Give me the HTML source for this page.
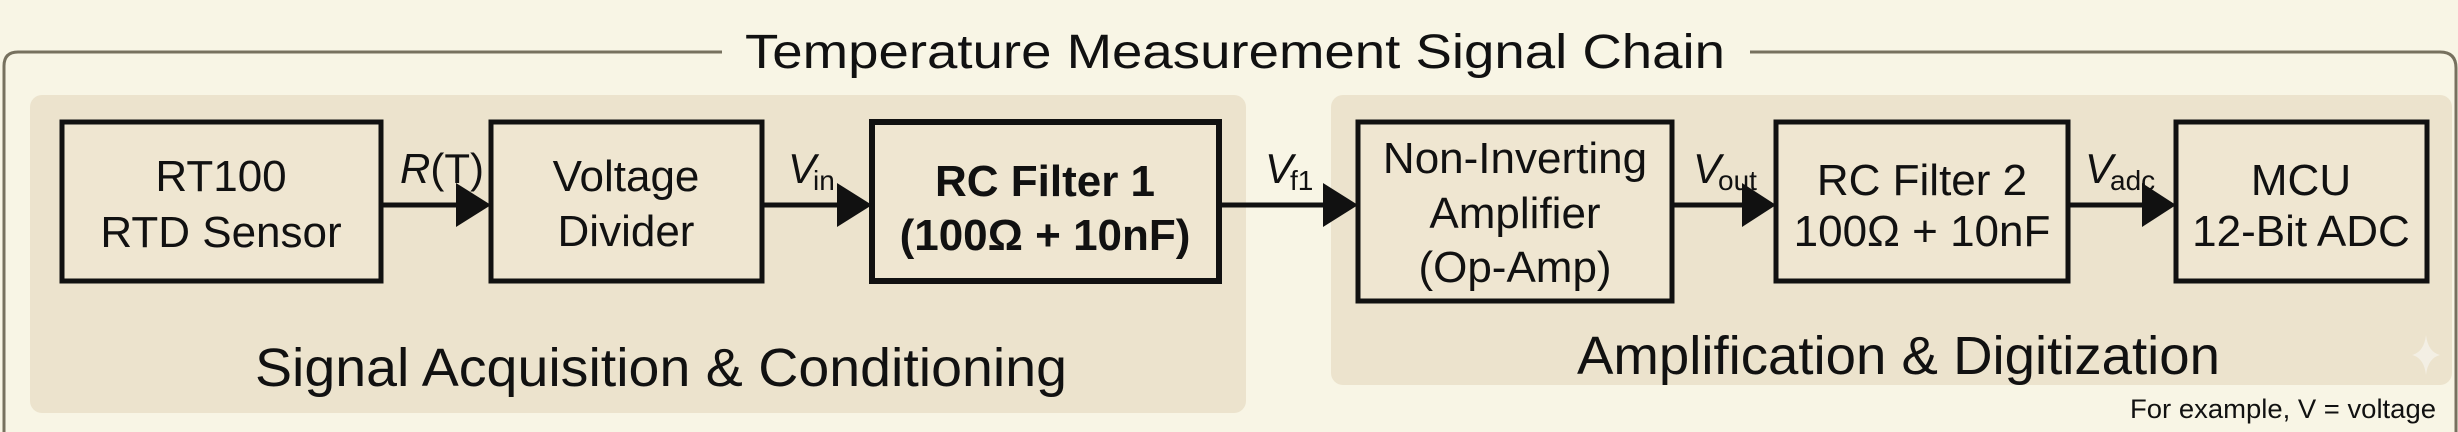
<!DOCTYPE html>
<html><head><meta charset="utf-8"><style>
html,body{margin:0;padding:0;background:#f8f5e5;}
svg{display:block;}
text{font-family:"Liberation Sans",sans-serif;fill:#111;}
</style></head><body>
<svg width="2458" height="432" viewBox="0 0 2458 432" xmlns="http://www.w3.org/2000/svg">
<rect x="0" y="0" width="2458" height="432" fill="#f8f5e5"/>
<!-- outer frame -->
<path d="M722 52 H18 Q4 52 4 66 V432" fill="none" stroke="#77715f" stroke-width="3"/>
<path d="M1750 52 H2440 Q2456 52 2456 68 V432" fill="none" stroke="#77715f" stroke-width="3"/>
<text x="745" y="68" font-size="48" textLength="980" lengthAdjust="spacingAndGlyphs">Temperature Measurement Signal Chain</text>
<!-- panels -->
<rect x="30" y="95" width="1216" height="318" rx="12" fill="#ece3cd"/>
<rect x="1331" y="95" width="1121" height="290" rx="12" fill="#ece3cd"/>
<!-- boxes -->
<g fill="#efe6d1" stroke="#111" stroke-width="5">
<rect x="62" y="122" width="319" height="159"/>
<rect x="491" y="122" width="271" height="159"/>
<rect x="872" y="122" width="347" height="159" stroke-width="6"/>
<rect x="1358" y="122" width="314" height="179"/>
<rect x="1776" y="122" width="292" height="159"/>
<rect x="2176" y="122" width="251" height="159"/>
</g>
<!-- arrows -->
<g stroke="#111" stroke-width="5">
<line x1="381" y1="205" x2="460" y2="205"/>
<line x1="762" y1="205" x2="840" y2="205"/>
<line x1="1219" y1="205" x2="1326" y2="205"/>
<line x1="1672" y1="205" x2="1746" y2="205"/>
<line x1="2068" y1="205" x2="2146" y2="205"/>
</g>
<g fill="#111">
<polygon points="456,183 491,205 456,227"/>
<polygon points="837,183 872,205 837,227"/>
<polygon points="1323,183 1358,205 1323,227"/>
<polygon points="1742,183 1776,205 1742,227"/>
<polygon points="2142,183 2176,205 2142,227"/>
</g>
<!-- connector labels -->
<text x="400" y="183" font-size="42"><tspan font-style="italic">R</tspan>(T)</text>
<text x="788" y="183" font-size="42" font-style="italic">V</text><text x="813" y="190" font-size="28">in</text>
<text x="1265" y="183" font-size="42" font-style="italic">V</text><text x="1290" y="190" font-size="28">f1</text>
<text x="1693" y="183" font-size="42" font-style="italic">V</text><text x="1718" y="190" font-size="28">out</text>
<text x="2085" y="183" font-size="42" font-style="italic">V</text><text x="2110" y="190" font-size="28">adc</text>
<!-- box text -->
<g font-size="44" text-anchor="middle">
<text x="221" y="191" text-anchor="middle">RT100</text>
<text x="221" y="247" text-anchor="middle">RTD Sensor</text>
<text x="626" y="191" text-anchor="middle">Voltage</text>
<text x="626" y="246" text-anchor="middle">Divider</text>
<text x="1045" y="196" text-anchor="middle" font-weight="bold">RC Filter 1</text>
<text x="1045" y="250" text-anchor="middle" font-weight="bold">(100Ω + 10nF)</text>
<text x="1515" y="173" text-anchor="middle">Non-Inverting</text>
<text x="1515" y="228" text-anchor="middle">Amplifier</text>
<text x="1515" y="282" text-anchor="middle">(Op-Amp)</text>
<text x="1922" y="195" text-anchor="middle">RC Filter 2</text>
<text x="1922" y="246" text-anchor="middle">100Ω + 10nF</text>
<text x="2301" y="195" text-anchor="middle">MCU</text>
<text x="2301" y="246" text-anchor="middle">12-Bit ADC</text>
</g>
<!-- group labels -->
<text x="255" y="386" font-size="54" textLength="812" lengthAdjust="spacingAndGlyphs">Signal Acquisition &amp; Conditioning</text>
<text x="1577" y="374" font-size="54" textLength="643" lengthAdjust="spacingAndGlyphs">Amplification &amp; Digitization</text>
<text x="2130" y="418" font-size="27" textLength="306" lengthAdjust="spacingAndGlyphs">For example, V = voltage</text>
<path d="M2426 335 Q2428 352 2440 355 Q2428 358 2426 375 Q2424 358 2412 355 Q2424 352 2426 335Z" fill="#f3efe4"/>
</svg>
</body></html>
